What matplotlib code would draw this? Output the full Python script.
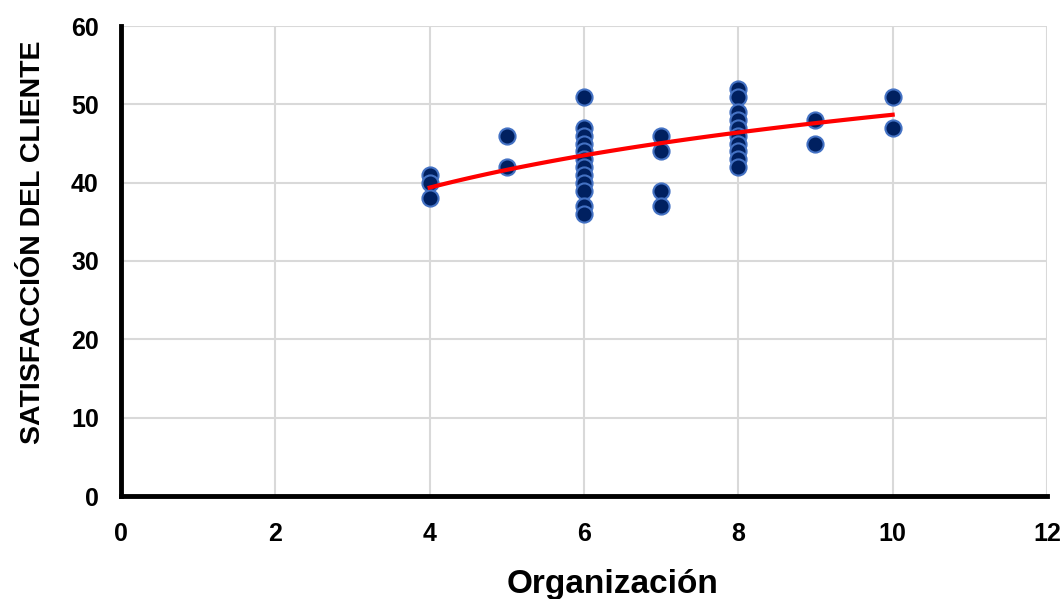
import matplotlib.pyplot as plt
import numpy as np

plt.rcParams['font.family'] = ['Liberation Sans', 'DejaVu Sans']
plt.rcParams['font.weight'] = 'bold'

# datos
organizacion = [4, 4, 4,
                5, 5,
                6, 6, 6, 6, 6, 6, 6, 6, 6, 6, 6, 6,
                7, 7, 7, 7,
                8, 8, 8, 8, 8, 8, 8, 8, 8, 8,
                9, 9,
                10, 10]
satisfaccion = [41, 40, 38,
                46, 42,
                51, 47, 46, 45, 44, 43, 42, 41, 40, 39, 37, 36,
                46, 44, 39, 37,
                52, 51, 49, 48, 47, 46, 45, 44, 43, 42,
                48, 45,
                51, 47]

# línea de tendencia logarítmica (y = a + b ln x), coeficientes
tendencia_a = 25.3
tendencia_b = 10.15

x = np.array(organizacion, dtype=float)
y = np.array(satisfaccion, dtype=float)

xt = np.linspace(x.min(), x.max(), 100)
yt = tendencia_a + tendencia_b * np.log(xt)

fig = plt.figure(figsize=(10.63, 5.99), dpi=100)
ax = fig.add_axes([121 / 1063, 103 / 599, 926 / 1063, 470 / 599])

ax.scatter(x, y, s=135, color='#002060', edgecolors='#4472C4', linewidths=1.5, zorder=3)
ax.plot(xt, yt, color='#FF0000', linewidth=3, zorder=4)

ax.set_xlim(0, 12)
ax.set_ylim(0, 60)
ax.set_xticks(range(0, 13, 2))
ax.set_yticks(range(0, 61, 10))
ax.grid(True, color='#D9D9D9', linewidth=1.5)
ax.set_axisbelow(True)

for s in ['top', 'right']:
    ax.spines[s].set_visible(False)
for s in ['left', 'bottom']:
    ax.spines[s].set_linewidth(3.5)
    ax.spines[s].set_color('black')

ax.tick_params(length=0, labelsize=18)
ax.tick_params(axis='x', pad=19)
ax.tick_params(axis='y', pad=16)
for lbl in ax.get_xticklabels() + ax.get_yticklabels():
    lbl.set_fontweight('bold')

fig.text(613 / 1063, 1 - 584 / 599, 'Organización', fontsize=24, fontweight='bold',
         ha='center', va='center')
fig.text(33 / 1063, 1 - 242 / 599, 'SATISFACCIÓN DEL CLIENTE', fontsize=20.5,
         fontweight='bold', rotation=90, ha='center', va='center')

plt.savefig('out.png', dpi=100)
